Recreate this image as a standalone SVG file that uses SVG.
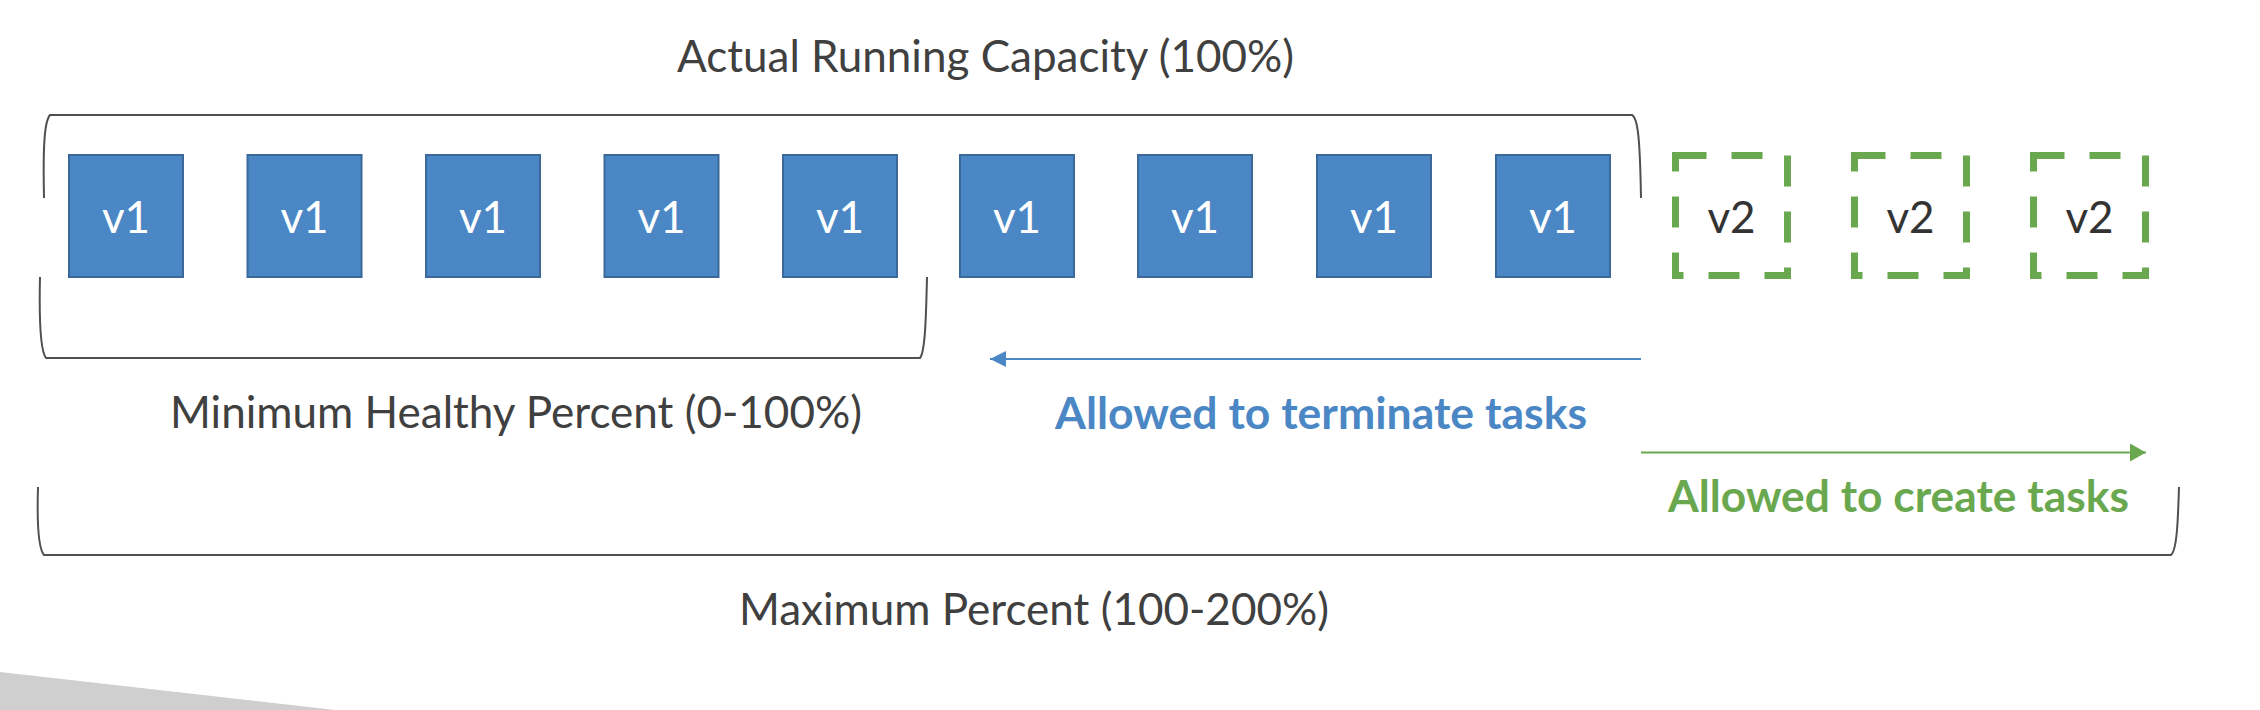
<svg xmlns="http://www.w3.org/2000/svg" width="2260" height="710" viewBox="0 0 2260 710">
<style>
.v1 rect{fill:#4a87c4;stroke:#3a6898;stroke-width:2}
.v1 text{fill:#ffffff;font-family:Lato,"Open Sans",sans-serif;font-size:44px;text-anchor:middle}
.v2 rect{fill:none;stroke:#6aa84f;stroke-width:7;stroke-dasharray:31 25}
.v2 text{fill:#333333;font-family:Lato,"Open Sans",sans-serif;font-size:44px;text-anchor:middle}
.br{fill:none;stroke:#505050;stroke-width:2}
.lbl{fill:#404040;font-family:Lato,"Open Sans",sans-serif;font-size:44px}
.bold{font-family:Lato,"Open Sans",sans-serif;font-size:44px;font-weight:bold}
</style>
<defs>
<marker id="ahBlue" markerUnits="userSpaceOnUse" markerWidth="16" markerHeight="16" refX="16" refY="8" orient="auto"><path d="M0,0 L16,8 L0,16 z" fill="#4a87c4"/></marker>
<marker id="ahGreen" markerUnits="userSpaceOnUse" markerWidth="16" markerHeight="18" refX="16" refY="9" orient="auto"><path d="M0,0 L16,9 L0,18 z" fill="#6aa84f"/></marker>
</defs>
<rect width="2260" height="710" fill="#ffffff"/>
<polygon points="0,672 335,710 0,710" fill="#cfcfcf"/>

<g id="brackets">
<path class="br" d="M44,198 C43,150 44,122 50,115 L1632,115 C1638,118 1640,140 1641,198"/>
<path class="br" d="M40,277 C39,320 40,350 46,358 L920,358 C925,352 926,320 927,277"/>
<path class="br" d="M38,487 C37,520 38,548 44,555 L2171,555 C2177,550 2178,520 2179,487"/>
</g>

<g id="labels">
<text class="lbl" x="677" y="72" textLength="617" lengthAdjust="spacingAndGlyphs">Actual Running Capacity (100%)</text>
<text class="lbl" x="170" y="428" textLength="692" lengthAdjust="spacingAndGlyphs">Minimum Healthy Percent (0-100%)</text>
<text class="lbl" x="739" y="625" textLength="590" lengthAdjust="spacingAndGlyphs">Maximum Percent (100-200%)</text>
<text class="bold" x="1055" y="429" fill="#4a87c4" textLength="532" lengthAdjust="spacingAndGlyphs">Allowed to terminate tasks</text>
<text class="bold" x="1668" y="512" fill="#6aa84f" textLength="461" lengthAdjust="spacingAndGlyphs">Allowed to create tasks</text>
</g>

<g id="v1-1" class="v1"><rect x="69" y="155" width="114" height="122"/><text x="126" y="233">v1</text></g>
<g id="v1-2" class="v1"><rect x="247.5" y="155" width="114" height="122"/><text x="304.5" y="233">v1</text></g>
<g id="v1-3" class="v1"><rect x="426" y="155" width="114" height="122"/><text x="483" y="233">v1</text></g>
<g id="v1-4" class="v1"><rect x="604.5" y="155" width="114" height="122"/><text x="661.5" y="233">v1</text></g>
<g id="v1-5" class="v1"><rect x="783" y="155" width="114" height="122"/><text x="840" y="233">v1</text></g>
<g id="v1-6" class="v1"><rect x="960" y="155" width="114" height="122"/><text x="1017" y="233">v1</text></g>
<g id="v1-7" class="v1"><rect x="1138" y="155" width="114" height="122"/><text x="1195" y="233">v1</text></g>
<g id="v1-8" class="v1"><rect x="1317" y="155" width="114" height="122"/><text x="1374" y="233">v1</text></g>
<g id="v1-9" class="v1"><rect x="1496" y="155" width="114" height="122"/><text x="1553" y="233">v1</text></g>

<g id="v2-1" class="v2"><rect x="1675.5" y="155.5" width="112" height="120"/><text x="1731.5" y="233">v2</text></g>
<g id="v2-2" class="v2"><rect x="1854.5" y="155.5" width="112" height="120"/><text x="1910.5" y="233">v2</text></g>
<g id="v2-3" class="v2"><rect x="2033.5" y="155.5" width="112" height="120"/><text x="2089.5" y="233">v2</text></g>

<g id="connectors">
<line x1="1641" y1="359" x2="990" y2="359" stroke="#4a87c4" stroke-width="2" marker-end="url(#ahBlue)"/>
<line x1="1641" y1="452.5" x2="2146" y2="452.5" stroke="#6aa84f" stroke-width="2" marker-end="url(#ahGreen)"/>
</g>
</svg>
